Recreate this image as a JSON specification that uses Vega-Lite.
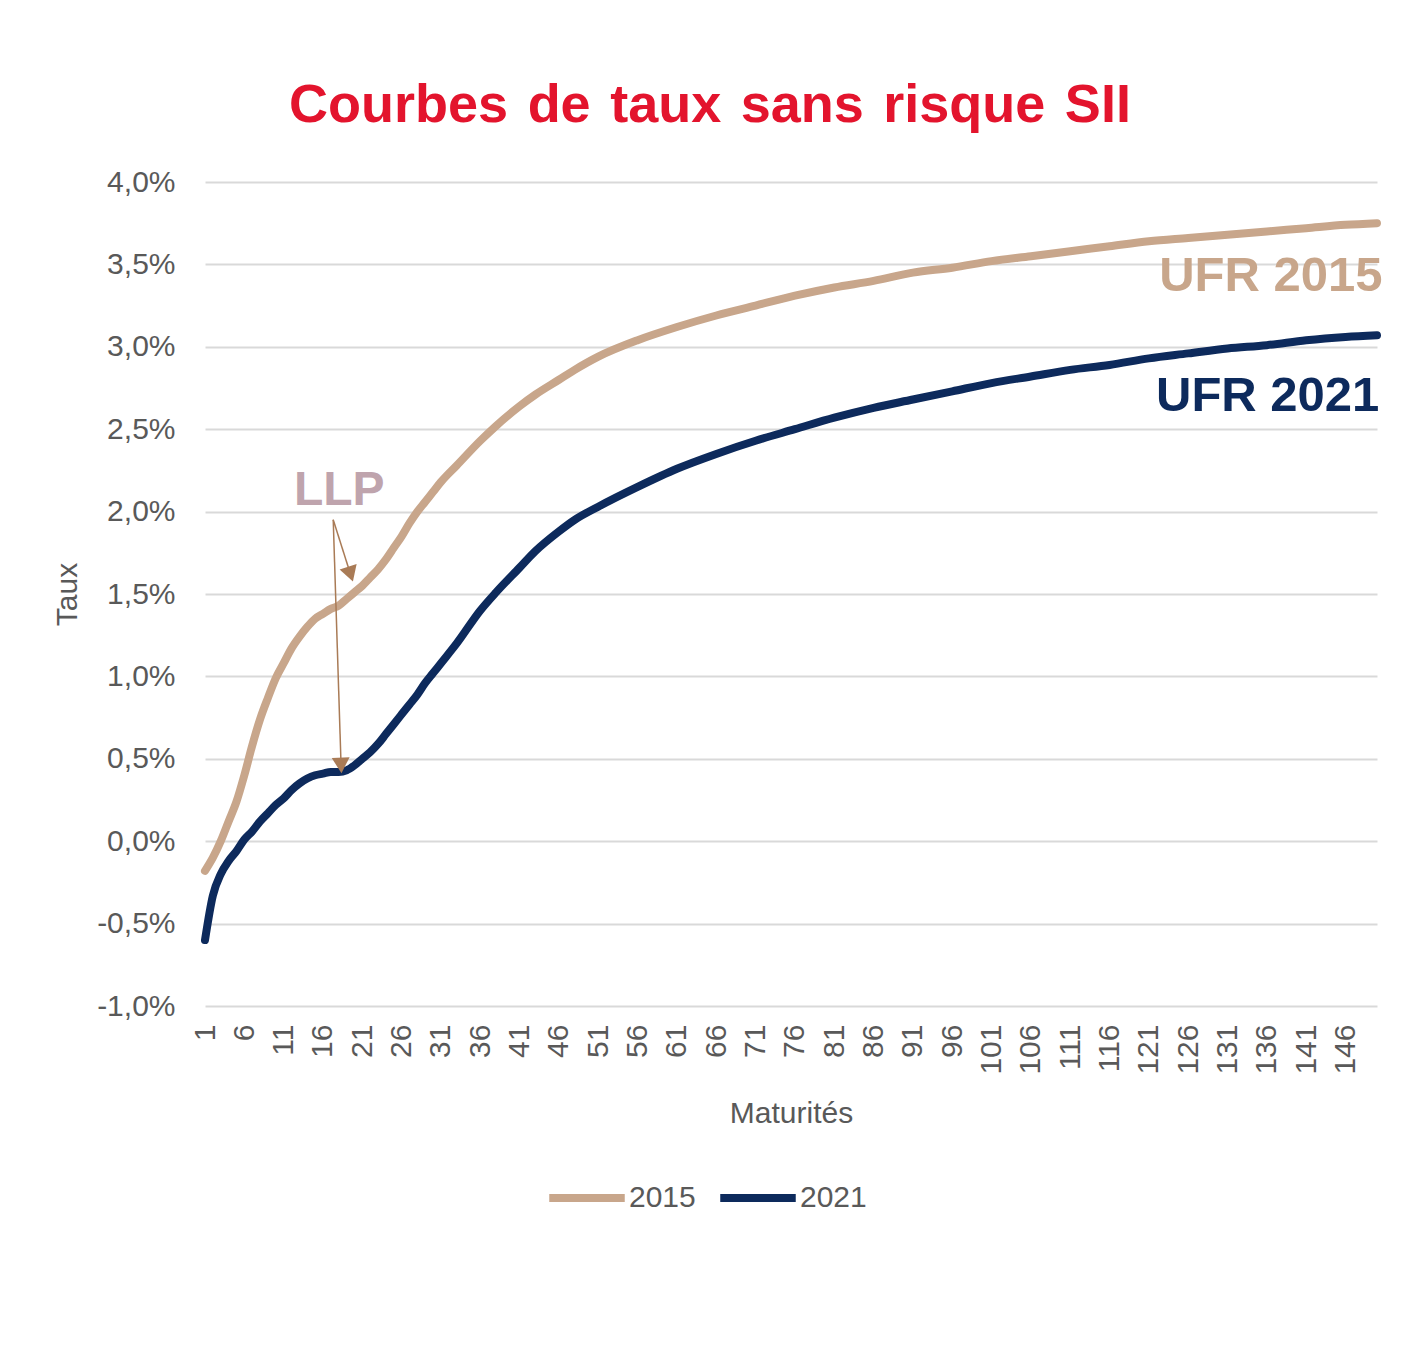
{
  "$schema": "https://vega.github.io/schema/vega-lite/v6.json",
  "autosize": "none",
  "width": 1172,
  "height": 824,
  "padding": {"left": 205, "top": 182, "right": 43, "bottom": 339},
  "background": "white",
  "config": {"view": {"stroke": null}},
  "title": {
    "text": "Courbes\u200A de\u200A taux\u200A sans\u200A risque\u200A SII",
    "font": "Liberation Sans",
    "fontSize": 54,
    "fontWeight": "bold",
    "color": "#E3142D",
    "anchor": "middle",
    "dx": -81,
    "offset": 34
  },
  "datasets": {
    "curves": [
      {"m": 1, "v": -0.18, "serie": "2015"}, {"m": 2, "v": -0.10, "serie": "2015"}, {"m": 3, "v": 0.00, "serie": "2015"},
      {"m": 4, "v": 0.12, "serie": "2015"}, {"m": 5, "v": 0.24, "serie": "2015"}, {"m": 6, "v": 0.40, "serie": "2015"},
      {"m": 7, "v": 0.58, "serie": "2015"}, {"m": 8, "v": 0.74, "serie": "2015"}, {"m": 9, "v": 0.87, "serie": "2015"},
      {"m": 10, "v": 0.99, "serie": "2015"}, {"m": 11, "v": 1.08, "serie": "2015"}, {"m": 12, "v": 1.17, "serie": "2015"},
      {"m": 13, "v": 1.24, "serie": "2015"}, {"m": 14, "v": 1.30, "serie": "2015"}, {"m": 15, "v": 1.35, "serie": "2015"},
      {"m": 16, "v": 1.38, "serie": "2015"}, {"m": 17, "v": 1.41, "serie": "2015"}, {"m": 18, "v": 1.43, "serie": "2015"},
      {"m": 19, "v": 1.47, "serie": "2015"}, {"m": 20, "v": 1.51, "serie": "2015"}, {"m": 21, "v": 1.55, "serie": "2015"},
      {"m": 22, "v": 1.60, "serie": "2015"}, {"m": 23, "v": 1.65, "serie": "2015"}, {"m": 24, "v": 1.71, "serie": "2015"},
      {"m": 25, "v": 1.78, "serie": "2015"}, {"m": 26, "v": 1.85, "serie": "2015"}, {"m": 27, "v": 1.93, "serie": "2015"},
      {"m": 28, "v": 2.00, "serie": "2015"}, {"m": 29, "v": 2.06, "serie": "2015"}, {"m": 30, "v": 2.12, "serie": "2015"},
      {"m": 31, "v": 2.18, "serie": "2015"}, {"m": 33, "v": 2.28, "serie": "2015"}, {"m": 36, "v": 2.43, "serie": "2015"},
      {"m": 38, "v": 2.52, "serie": "2015"}, {"m": 41, "v": 2.64, "serie": "2015"}, {"m": 43, "v": 2.71, "serie": "2015"},
      {"m": 46, "v": 2.80, "serie": "2015"}, {"m": 48, "v": 2.86, "serie": "2015"}, {"m": 51, "v": 2.94, "serie": "2015"},
      {"m": 56, "v": 3.04, "serie": "2015"}, {"m": 61, "v": 3.12, "serie": "2015"}, {"m": 66, "v": 3.19, "serie": "2015"},
      {"m": 71, "v": 3.25, "serie": "2015"}, {"m": 76, "v": 3.31, "serie": "2015"}, {"m": 81, "v": 3.36, "serie": "2015"},
      {"m": 86, "v": 3.40, "serie": "2015"}, {"m": 91, "v": 3.45, "serie": "2015"}, {"m": 96, "v": 3.48, "serie": "2015"},
      {"m": 101, "v": 3.52, "serie": "2015"}, {"m": 106, "v": 3.55, "serie": "2015"}, {"m": 111, "v": 3.58, "serie": "2015"},
      {"m": 116, "v": 3.61, "serie": "2015"}, {"m": 121, "v": 3.64, "serie": "2015"}, {"m": 126, "v": 3.66, "serie": "2015"},
      {"m": 131, "v": 3.68, "serie": "2015"}, {"m": 136, "v": 3.70, "serie": "2015"}, {"m": 141, "v": 3.72, "serie": "2015"},
      {"m": 146, "v": 3.74, "serie": "2015"}, {"m": 150, "v": 3.75, "serie": "2015"},
      {"m": 1, "v": -0.60, "serie": "2021"}, {"m": 2, "v": -0.33, "serie": "2021"}, {"m": 3, "v": -0.20, "serie": "2021"},
      {"m": 4, "v": -0.12, "serie": "2021"}, {"m": 5, "v": -0.06, "serie": "2021"}, {"m": 6, "v": 0.01, "serie": "2021"},
      {"m": 7, "v": 0.06, "serie": "2021"}, {"m": 8, "v": 0.12, "serie": "2021"}, {"m": 9, "v": 0.17, "serie": "2021"},
      {"m": 10, "v": 0.22, "serie": "2021"}, {"m": 11, "v": 0.26, "serie": "2021"}, {"m": 12, "v": 0.31, "serie": "2021"},
      {"m": 13, "v": 0.35, "serie": "2021"}, {"m": 14, "v": 0.38, "serie": "2021"}, {"m": 15, "v": 0.40, "serie": "2021"},
      {"m": 16, "v": 0.41, "serie": "2021"}, {"m": 17, "v": 0.42, "serie": "2021"}, {"m": 18, "v": 0.42, "serie": "2021"},
      {"m": 19, "v": 0.43, "serie": "2021"}, {"m": 20, "v": 0.46, "serie": "2021"}, {"m": 21, "v": 0.50, "serie": "2021"},
      {"m": 22, "v": 0.54, "serie": "2021"}, {"m": 23, "v": 0.59, "serie": "2021"}, {"m": 24, "v": 0.65, "serie": "2021"},
      {"m": 25, "v": 0.71, "serie": "2021"}, {"m": 26, "v": 0.77, "serie": "2021"}, {"m": 27, "v": 0.83, "serie": "2021"},
      {"m": 28, "v": 0.89, "serie": "2021"}, {"m": 29, "v": 0.96, "serie": "2021"}, {"m": 30, "v": 1.02, "serie": "2021"},
      {"m": 31, "v": 1.08, "serie": "2021"}, {"m": 33, "v": 1.20, "serie": "2021"}, {"m": 36, "v": 1.40, "serie": "2021"},
      {"m": 38, "v": 1.51, "serie": "2021"}, {"m": 41, "v": 1.66, "serie": "2021"}, {"m": 43, "v": 1.76, "serie": "2021"},
      {"m": 46, "v": 1.88, "serie": "2021"}, {"m": 48, "v": 1.95, "serie": "2021"}, {"m": 51, "v": 2.03, "serie": "2021"},
      {"m": 56, "v": 2.15, "serie": "2021"}, {"m": 61, "v": 2.26, "serie": "2021"}, {"m": 66, "v": 2.35, "serie": "2021"},
      {"m": 71, "v": 2.43, "serie": "2021"}, {"m": 76, "v": 2.50, "serie": "2021"}, {"m": 81, "v": 2.57, "serie": "2021"},
      {"m": 86, "v": 2.63, "serie": "2021"}, {"m": 91, "v": 2.68, "serie": "2021"}, {"m": 96, "v": 2.73, "serie": "2021"},
      {"m": 101, "v": 2.78, "serie": "2021"}, {"m": 106, "v": 2.82, "serie": "2021"}, {"m": 111, "v": 2.86, "serie": "2021"},
      {"m": 116, "v": 2.89, "serie": "2021"}, {"m": 121, "v": 2.93, "serie": "2021"}, {"m": 126, "v": 2.96, "serie": "2021"},
      {"m": 131, "v": 2.99, "serie": "2021"}, {"m": 136, "v": 3.01, "serie": "2021"}, {"m": 141, "v": 3.04, "serie": "2021"},
      {"m": 146, "v": 3.06, "serie": "2021"}, {"m": 150, "v": 3.07, "serie": "2021"}
    ],
    "arrows": [
      {"m1": 17.3, "v1": 1.95, "m2": 19.5, "v2": 1.62, "ang": -18},
      {"m1": 17.3, "v1": 1.95, "m2": 18.3, "v2": 0.46, "ang": -3}
    ]
  },
  "layer": [
    {
      "data": {"name": "curves"},
      "mark": {"type": "line", "strokeWidth": 8, "interpolate": "monotone", "strokeCap": "round"},
      "encoding": {
        "x": {
          "field": "m", "type": "quantitative",
          "scale": {"domain": [1, 150], "nice": false, "zero": false},
          "axis": {
            "title": "Maturités",
            "values": [1, 6, 11, 16, 21, 26, 31, 36, 41, 46, 51, 56, 61, 66, 71, 76, 81, 86, 91, 96, 101, 106, 111, 116, 121, 126, 131, 136, 141, 146],
            "labelAngle": -90,
            "labelAlign": "right",
            "labelBaseline": "middle",
            "labelPadding": 18,
            "labelFontSize": 30,
            "labelColor": "#595959",
            "labelFont": "Liberation Sans",
            "labelOverlap": false,
            "labelFlush": false,
            "ticks": false,
            "domain": false,
            "grid": false,
            "titleFont": "Liberation Sans",
            "titleFontSize": 30,
            "titleFontWeight": "normal",
            "titleColor": "#595959",
            "titlePadding": 24
          }
        },
        "y": {
          "field": "v", "type": "quantitative",
          "scale": {"domain": [-1, 4], "nice": false, "zero": false},
          "axis": {
            "title": "Taux",
            "values": [-1, -0.5, 0, 0.5, 1, 1.5, 2, 2.5, 3, 3.5, 4],
            "labelExpr": "(datum.value < 0 ? '-' : '') + replace(format(abs(datum.value), '.1f'), '.', ',') + '%'",
            "labelFontSize": 30,
            "labelColor": "#595959",
            "labelFont": "Liberation Sans",
            "labelPadding": 30,
            "ticks": false,
            "domain": false,
            "grid": true,
            "gridColor": "#D9D9D9",
            "gridWidth": 2,
            "titleFont": "Liberation Sans",
            "titleFontSize": 30,
            "titleFontWeight": "normal",
            "titleColor": "#595959",
            "titlePadding": 14
          }
        },
        "color": {
          "field": "serie", "type": "nominal",
          "scale": {"domain": ["2015", "2021"], "range": ["#C8A68B", "#0D2A5C"]},
          "legend": {
            "title": null,
            "orient": "none",
            "direction": "horizontal",
            "legendX": 340,
            "legendY": 974,
            "symbolType": "stroke",
            "symbolStrokeWidth": 8,
            "symbolSize": 5700,
            "labelFont": "Liberation Sans",
            "labelFontSize": 30,
            "labelColor": "#595959",
            "labelOffset": 0,
            "columnPadding": 8
          }
        }
      }
    },
    {
      "data": {"name": "arrows"},
      "mark": {"type": "rule", "color": "#A97B56", "strokeWidth": 1.5},
      "encoding": {
        "x": {"field": "m1", "type": "quantitative"},
        "y": {"field": "v1", "type": "quantitative"},
        "x2": {"field": "m2"},
        "y2": {"field": "v2"}
      }
    },
    {
      "data": {"name": "arrows"},
      "mark": {"type": "point", "shape": "triangle-down", "filled": true, "color": "#A97B56", "size": 320, "opacity": 1},
      "encoding": {
        "x": {"field": "m2", "type": "quantitative"},
        "y": {"field": "v2", "type": "quantitative"},
        "angle": {"field": "ang", "type": "quantitative", "scale": null}
      }
    },
    {
      "data": {"values": [{"m": 150.7, "v": 3.34, "t": "UFR 2015"}]},
      "mark": {"type": "text", "align": "right", "baseline": "alphabetic", "font": "Liberation Sans", "fontWeight": "bold", "fontSize": 49, "color": "#C8A68B"},
      "encoding": {
        "x": {"field": "m", "type": "quantitative"},
        "y": {"field": "v", "type": "quantitative"},
        "text": {"field": "t"}
      }
    },
    {
      "data": {"values": [{"m": 150.3, "v": 2.61, "t": "UFR 2021"}]},
      "mark": {"type": "text", "align": "right", "baseline": "alphabetic", "font": "Liberation Sans", "fontWeight": "bold", "fontSize": 49, "color": "#0D2A5C"},
      "encoding": {
        "x": {"field": "m", "type": "quantitative"},
        "y": {"field": "v", "type": "quantitative"},
        "text": {"field": "t"}
      }
    },
    {
      "data": {"values": [{"m": 12.3, "v": 2.04, "t": "LLP"}]},
      "mark": {"type": "text", "align": "left", "baseline": "alphabetic", "font": "Liberation Sans", "fontWeight": "bold", "fontSize": 48, "color": "#BFA4AD"},
      "encoding": {
        "x": {"field": "m", "type": "quantitative"},
        "y": {"field": "v", "type": "quantitative"},
        "text": {"field": "t"}
      }
    }
  ]
}
